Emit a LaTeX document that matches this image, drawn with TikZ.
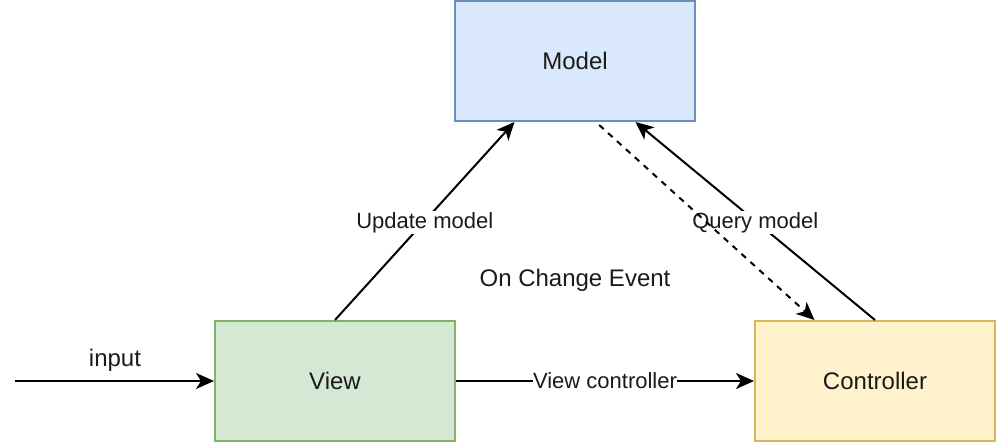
\documentclass[tikz,border=0pt]{standalone}
\usepackage{fontspec}
\setmainfont{Liberation Sans}
\usetikzlibrary{arrows.meta,calc}
\definecolor{mfill}{HTML}{DAE8FC}\definecolor{mdraw}{HTML}{6C8EBF}
\definecolor{vfill}{HTML}{D5E8D4}\definecolor{vdraw}{HTML}{82B366}
\definecolor{cfill}{HTML}{FFF2CC}\definecolor{cdraw}{HTML}{D6B656}
\definecolor{txt}{HTML}{1A1A1A}
\begin{document}
\begin{tikzpicture}[x=1pt,y=-1pt,
  box/.style={draw, line width=2pt, minimum width=240pt, minimum height=120pt, inner sep=0pt, text=txt, font=\fontsize{24}{28}\selectfont},
  conn/.style={line width=2pt, -{Stealth[length=18pt,width=16pt,inset=5pt]}},
  elabel/.style={fill=white, inner sep=1pt, text=txt, font=\fontsize{22}{26}\selectfont},
  plain/.style={text=txt, font=\fontsize{24}{28}\selectfont}]
\useasboundingbox (0,0) rectangle (996,442);
\node[box, fill=mfill, draw=mdraw] (model) at (575,61) {Model};
\node[box, fill=vfill, draw=vdraw] (view) at (335,381) {View};
\node[box, fill=cfill, draw=cdraw] (ctrl) at (875,381) {Controller};
\coordinate (in) at (15,381);
\draw[conn] (in) -- (view.west);
\node[plain] (inlbl) at (115,360) {input};
\draw[conn] (view.north) -- node[elabel, yshift=-1.5pt] (upd) {Update model} ($(model.south west)!0.25!(model.south east)$);
\draw[conn] (ctrl.north) -- node[elabel, yshift=-1.5pt] (qry) {Query model} ($(model.south west)!0.75!(model.south east)$);
\draw[conn, dash pattern=on 6pt off 6pt] ($(model.south west)!0.6!(model.south east)+(0,3)$) -- ($(ctrl.north west)!0.25!(ctrl.north east)$);
\draw[conn] (view.east) -- node[elabel, inner sep=0pt] (vc) {View controller} (ctrl.west);
\node[plain] (evt) at (575,280) {On Change Event};
\end{tikzpicture}
\end{document}
